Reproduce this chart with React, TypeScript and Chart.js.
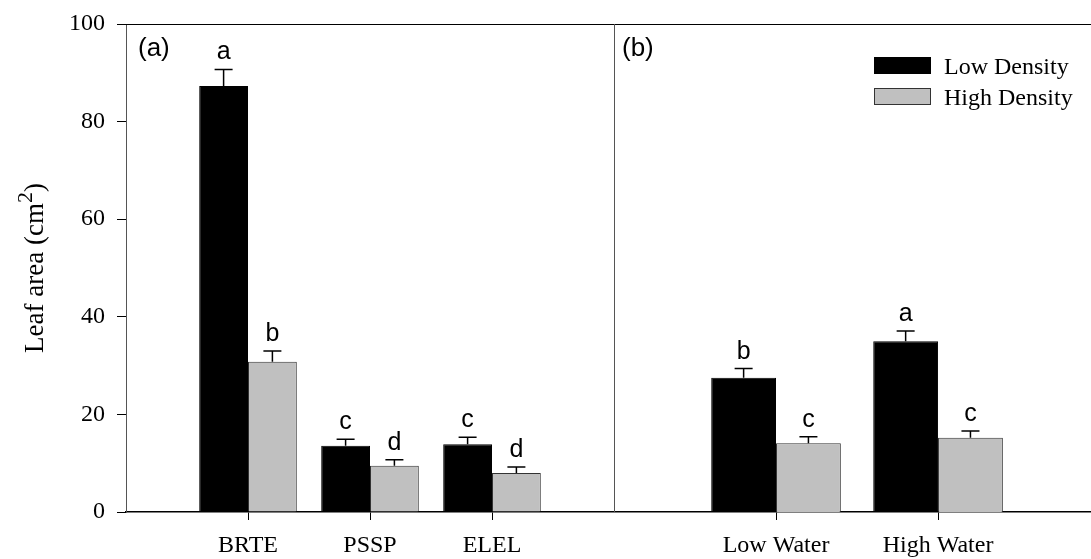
import React, { useEffect, useRef } from 'react';
import { Chart, registerables } from 'chart.js';

Chart.register(...registerables);

// ---- data ----
const panelACategories = ['BRTE', 'PSSP', 'ELEL'];
const panelBCategories = ['Low Water', 'High Water'];
const seriesNames = ['Low Density', 'High Density'];

const panelALow = [87.3, 13.6, 13.9];
const panelALowErr = [3.4, 1.3, 1.4];
const panelAHigh = [30.8, 9.5, 8.0];
const panelAHighErr = [2.2, 1.2, 1.2];

const panelBLow = [27.5, 35.0];
const panelBLowErr = [1.9, 2.1];
const panelBHigh = [14.1, 15.2];
const panelBHighErr = [1.3, 1.4];

const panelALowLetters = ['a', 'c', 'c'];
const panelAHighLetters = ['b', 'd', 'd'];
const panelBLowLetters = ['b', 'a'];
const panelBHighLetters = ['c', 'c'];

const panelLabels = ['(a)', '(b)'];
const yTicks = [0, 20, 40, 60, 80, 100];
const yTitleMain = 'Leaf area (cm';
const yTitleSup = '2';
const yTitleEnd = ')';

const SERIF = "'Liberation Serif', 'Times New Roman', serif";
const SANS = "'Liberation Sans', Arial, sans-serif";
const LOW_COLOR = '#000000';
const HIGH_COLOR = '#c0c0c0';
const HIGH_BORDER = '#333333';

const toPoints = (vals: number[]) => vals.map((v, i) => ({ x: i + 1, y: v }));

const annotatePlugin = {
  id: 'annotate',
  afterDatasetsDraw(chart: any, _args: any, opts: any) {
    const ctx = chart.ctx;
    const area = chart.chartArea;
    const yS = chart.scales.y;
    ctx.save();

    // top frame line
    ctx.strokeStyle = '#000';
    ctx.lineWidth = 1;
    ctx.beginPath();
    ctx.moveTo(area.left, Math.round(area.top) + 0.5);
    ctx.lineTo(area.right, Math.round(area.top) + 0.5);
    ctx.stroke();

    // panel divider (left edge of panel b)
    if (opts.divider) {
      ctx.strokeStyle = '#555';
      ctx.beginPath();
      ctx.moveTo(Math.round(area.left) + 0.5, area.top);
      ctx.lineTo(Math.round(area.left) + 0.5, area.bottom);
      ctx.stroke();
    }

    // error bars + letters
    chart.data.datasets.forEach((ds: any, di: number) => {
      const meta = chart.getDatasetMeta(di);
      meta.data.forEach((el: any, i: number) => {
        const val = ds.data[i].y;
        const err = ds.errors[i];
        const yTop = yS.getPixelForValue(val + err);
        ctx.strokeStyle = '#000';
        ctx.lineWidth = 1.5;
        ctx.beginPath();
        ctx.moveTo(el.x, el.y);
        ctx.lineTo(el.x, yTop);
        ctx.moveTo(el.x - 9, yTop);
        ctx.lineTo(el.x + 9, yTop);
        ctx.stroke();
        ctx.fillStyle = '#000';
        ctx.font = `25px ${SANS}`;
        ctx.textAlign = 'center';
        ctx.textBaseline = 'alphabetic';
        ctx.fillText(ds.letters[i], el.x, yTop - 10);
      });
    });

    // panel label
    ctx.fillStyle = '#000';
    ctx.font = `26px ${SANS}`;
    ctx.textAlign = 'left';
    ctx.textBaseline = 'alphabetic';
    ctx.fillText(opts.label, area.left + opts.labelOffset, area.top + 32);

    // legend
    if (opts.legend) {
      chart.data.datasets.forEach((ds: any, i: number) => {
        const bx = area.right - 217;
        const by = area.top + 33 + i * 31;
        ctx.fillStyle = ds.backgroundColor;
        ctx.fillRect(bx, by, 57, 17);
        ctx.strokeStyle = ds.borderColor;
        ctx.lineWidth = 1;
        ctx.strokeRect(bx + 0.5, by + 0.5, 56, 16);
        ctx.fillStyle = '#000';
        ctx.font = `24px ${SERIF}`;
        ctx.textAlign = 'left';
        ctx.textBaseline = 'alphabetic';
        ctx.fillText(ds.label, bx + 70, by + 17);
      });
    }

    // y title with superscript
    if (opts.yTitle) {
      const cy = (area.top + area.bottom) / 2;
      ctx.translate(43, cy);
      ctx.rotate(-Math.PI / 2);
      ctx.fillStyle = '#000';
      ctx.textAlign = 'left';
      ctx.textBaseline = 'alphabetic';
      ctx.font = `27px ${SERIF}`;
      const w1 = ctx.measureText(yTitleMain).width;
      const w3 = ctx.measureText(yTitleEnd).width;
      ctx.font = `22px ${SERIF}`;
      const w2 = ctx.measureText(yTitleSup).width;
      const total = w1 + w2 + w3;
      let x0 = -total / 2;
      ctx.font = `27px ${SERIF}`;
      ctx.fillText(yTitleMain, x0, 0);
      x0 += w1;
      ctx.font = `22px ${SERIF}`;
      ctx.fillText(yTitleSup, x0, -11);
      x0 += w2;
      ctx.font = `27px ${SERIF}`;
      ctx.fillText(yTitleEnd, x0, 0);
    }

    ctx.restore();
  },
};

const tickFont = { family: SERIF, size: 24 };

function xAxis(cats: string[], max: number) {
  return {
    type: 'linear' as const,
    position: 'bottom' as const,
    min: 0,
    max,
    offset: false,
    afterBuildTicks: (s: any) => {
      s.ticks = cats.map((_, i) => ({ value: i + 1 }));
    },
    afterFit: (s: any) => {
      s.height = 47;
      s.paddingLeft = 0;
      s.paddingRight = 0;
    },
    ticks: {
      callback: (v: any) => cats[Number(v) - 1] ?? '',
      font: tickFont,
      color: '#000',
      padding: 11,
      maxRotation: 0,
      autoSkip: false,
    },
    grid: { offset: false, drawOnChartArea: false, drawTicks: true, tickLength: 8, color: '#000', lineWidth: 1 },
    border: { display: true, color: '#000', width: 1.5 },
  };
}

function yAxis(show: boolean) {
  return {
    type: 'linear' as const,
    position: 'left' as const,
    display: show,
    min: 0,
    max: 100,
    afterBuildTicks: (s: any) => {
      s.ticks = yTicks.map((v) => ({ value: v }));
    },
    afterFit: (s: any) => {
      s.width = show ? 126 : 0;
      s.paddingTop = 0;
      s.paddingBottom = 0;
    },
    ticks: { font: tickFont, color: '#000', padding: 12 },
    grid: { drawOnChartArea: false, drawTicks: true, tickLength: 9, color: '#000' },
    border: { display: true, color: '#555', width: 1 },
  };
}

function makeChart(
  canvas: HTMLCanvasElement,
  cats: string[],
  xMax: number,
  low: number[], lowErr: number[], lowLetters: string[],
  high: number[], highErr: number[], highLetters: string[],
  plugOpts: any,
  showY: boolean,
) {
  return new Chart(canvas, {
    type: 'bar',
    data: {
      datasets: [
        {
          label: seriesNames[0], data: toPoints(low),
          backgroundColor: LOW_COLOR, borderColor: LOW_COLOR, borderWidth: 1,
          errors: lowErr, letters: lowLetters,
        } as any,
        {
          label: seriesNames[1], data: toPoints(high),
          backgroundColor: HIGH_COLOR, borderColor: HIGH_BORDER, borderWidth: 1,
          errors: highErr, letters: highLetters,
        } as any,
      ],
    },
    options: {
      responsive: false,
      animation: false,
      devicePixelRatio: 1,
      datasets: { bar: { categoryPercentage: 0.8, barPercentage: 1 } },
      layout: { padding: { top: 24, left: 0, right: 0, bottom: 0 } },
      plugins: {
        legend: { display: false },
        tooltip: { enabled: false },
        annotate: plugOpts,
      } as any,
      scales: {
        x: xAxis(cats, xMax),
        y: yAxis(showY),
      } as any,
    },
    plugins: [annotatePlugin],
  });
}

export default function App() {
  const refA = useRef<HTMLCanvasElement>(null);
  const refB = useRef<HTMLCanvasElement>(null);

  useEffect(() => {
    if (!refA.current || !refB.current) return;
    const a = makeChart(
      refA.current, panelACategories, 4,
      panelALow, panelALowErr, panelALowLetters,
      panelAHigh, panelAHighErr, panelAHighLetters,
      { label: panelLabels[0], labelOffset: 12, yTitle: true, legend: false, divider: false },
      true,
    );
    const b = makeChart(
      refB.current, panelBCategories, 2.944,
      panelBLow, panelBLowErr, panelBLowLetters,
      panelBHigh, panelBHighErr, panelBHighLetters,
      { label: panelLabels[1], labelOffset: 8, yTitle: false, legend: true, divider: true },
      false,
    );
    return () => {
      a.destroy();
      b.destroy();
    };
  }, []);

  return (
    <div style={{ position: 'absolute', left: 0, top: 0, width: 1091, height: 559, background: '#fff' }}>
      <canvas ref={refA} width={614} height={559}
        style={{ position: 'absolute', left: 0, top: 0, display: 'block', width: 614, height: 559 }} />
      <canvas ref={refB} width={477} height={559}
        style={{ position: 'absolute', left: 614, top: 0, display: 'block', width: 477, height: 559 }} />
    </div>
  );
}
